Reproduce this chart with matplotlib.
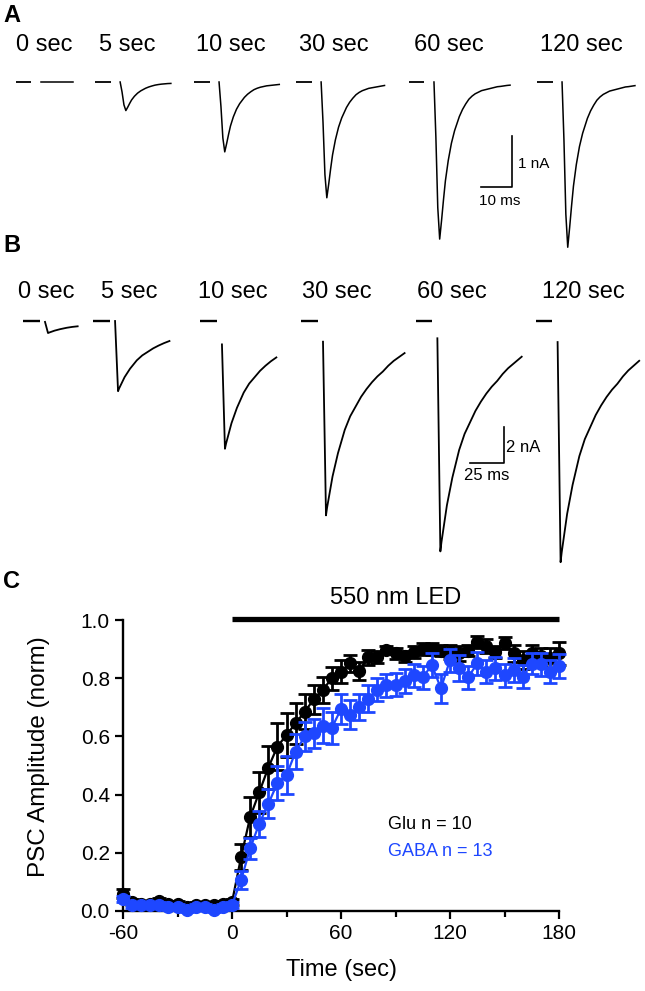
import matplotlib
matplotlib.use('Agg')
import matplotlib.pyplot as plt

plt.rcParams['font.family'] = ['Liberation Sans', 'DejaVu Sans']
plt.rcParams['axes.unicode_minus'] = False

# ---- panel C data: normalised PSC amplitude vs time ----
time_sec = [-60, -55, -50, -45, -40, -35, -30, -25, -20, -15, -10, -5, 0,
            5, 10, 15, 20, 25, 30, 35, 40, 45, 50, 55, 60, 65, 70, 75, 80,
            85, 90, 95, 100, 105, 110, 115, 120, 125, 130, 135, 140, 145,
            150, 155, 160, 165, 170, 175, 180]
glu_mean = [0.06, 0.03, 0.025, 0.025, 0.035, 0.025, 0.025, 0.015, 0.02, 0.02, 0.02, 0.025, 0.03,
            0.185, 0.323, 0.408, 0.493, 0.565, 0.605, 0.645, 0.685, 0.727, 0.76, 0.80, 0.822,
            0.851, 0.825, 0.872, 0.872, 0.897, 0.885, 0.875, 0.89, 0.90, 0.90, 0.895, 0.89,
            0.885, 0.895, 0.925, 0.91, 0.89, 0.92, 0.885, 0.862, 0.885, 0.875, 0.87, 0.885]
glu_sem = [0.015, 0.01, 0.01, 0.01, 0.01, 0.01, 0.01, 0.01, 0.01, 0.01, 0.01, 0.01, 0.01,
           0.045, 0.07, 0.07, 0.075, 0.08, 0.075, 0.07, 0.06, 0.05, 0.045, 0.04, 0.04,
           0.03, 0.03, 0.025, 0.02, 0.015, 0.02, 0.02, 0.02, 0.02, 0.02, 0.02, 0.025,
           0.025, 0.02, 0.02, 0.025, 0.02, 0.02, 0.03, 0.03, 0.03, 0.03, 0.035, 0.04]
gaba_mean = [0.04, 0.02, 0.02, 0.02, 0.02, 0.015, 0.015, 0.005, 0.015, 0.015, 0.005, 0.015, 0.02,
             0.107, 0.215, 0.30, 0.368, 0.44, 0.467, 0.547, 0.60, 0.61, 0.636, 0.63, 0.694,
             0.674, 0.70, 0.73, 0.76, 0.775, 0.778, 0.79, 0.81, 0.803, 0.845, 0.765, 0.862,
             0.834, 0.803, 0.851, 0.822, 0.834, 0.81, 0.828, 0.805, 0.85, 0.848, 0.822, 0.842]
gaba_sem = [0.01, 0.01, 0.01, 0.01, 0.01, 0.01, 0.01, 0.01, 0.01, 0.01, 0.01, 0.01, 0.01,
            0.03, 0.035, 0.045, 0.05, 0.06, 0.065, 0.06, 0.05, 0.05, 0.06, 0.055, 0.05,
            0.05, 0.045, 0.045, 0.04, 0.04, 0.04, 0.04, 0.04, 0.04, 0.04, 0.05, 0.04,
            0.045, 0.04, 0.04, 0.04, 0.04, 0.04, 0.04, 0.04, 0.035, 0.04, 0.04, 0.04]

# ---- panels A/B data: example PSC traces ----
trace_labels = ['0 sec', '5 sec', '10 sec', '30 sec', '60 sec', '120 sec']

# panel A (Glu): normalised waveform, peak amplitude (nA), sweep length (ms)
shape_a_ms = [0, 0.6, 1.2, 1.8, 2.4, 3.0, 3.6, 4.5, 5.5, 6.5, 8, 9, 10, 11, 12, 13,
              14, 15, 16, 17, 18, 19, 20, 21, 22, 23, 24]
shape_a = [0, 0.35, 0.8, 1.0, 0.88, 0.75, 0.63, 0.5, 0.39, 0.31, 0.22, 0.175, 0.14,
           0.11, 0.09, 0.075, 0.065, 0.055, 0.05, 0.045, 0.04, 0.035, 0.03, 0.028,
           0.025, 0.022, 0.02]
peak_a = [0, 0.56, 1.37, 2.27, 3.08, 3.24]
dur_a = [10.7, 16.7, 19.6, 20, 24, 23.7]

# panel B (GABA): first point is replaced by the onset level
shape_b_ms = [0, 2.2, 3, 4, 5.5, 7, 9, 11, 13.5, 16, 20, 24, 28, 32, 36, 40, 44,
              48, 52, 56, 60, 62]
shape_b = [0, 1.0, 0.96, 0.92, 0.86, 0.80, 0.74, 0.68, 0.62, 0.56, 0.49, 0.44,
           0.39, 0.35, 0.315, 0.285, 0.26, 0.23, 0.205, 0.185, 0.165, 0.155]
peak_b = [0.67, 3.9, 7.1, 10.8, 12.8, 13.4]
onset_b = [0.05, 0, 1.3, 1.15, 0.96, 1.17]
dur_b = [24, 42, 40, 61, 62, 60.6]

W, H = 645, 991
BLUE = '#1e47ff'

fig = plt.figure(figsize=(W / 100, H / 100), dpi=100)


def fx(px):
    return px / W


def fy(py):
    return 1 - py / H


def trace_panel(rect, px_per_ms, px_per_na, base_py, top_py, bot_py, starts,
                dash_len, gap, shape_t, shape_v, peaks, durs, onsets, lw, dash_lw):
    ax = fig.add_axes(rect)
    ax.set_xlim(0, W / px_per_ms)
    ax.set_ylim(-(bot_py - base_py) / px_per_na, (base_py - top_py) / px_per_na)
    ax.axis('off')
    for i, s in enumerate(starts):
        ax.plot([s - gap - dash_len, s - gap], [0, 0], color='black', lw=dash_lw,
                solid_capstyle='butt')
        xs, ys = [], []
        for t, v in zip(shape_t, shape_v):
            if t > durs[i]:
                break
            xs.append(s + t)
            if t == 0 and onsets is not None:
                ys.append(-onsets[i])
            else:
                ys.append(-peaks[i] * v)
        ax.plot(xs, ys, color='black', lw=lw)
    return ax


# ---- panel A ----
ax_a = trace_panel([0, fy(260), 1, 200 / H], 3.17, 51, 82, 60, 260,
                   [12.9, 37.9, 69.1, 101.3, 136.9, 177.3], 4.8, 3.0,
                   shape_a_ms, shape_a, peak_a, dur_a, None, 1.1, 1.3)
ax_a.plot([151.7, 161.5, 161.5], [-2.06, -2.06, -1.06], color='black', lw=1.2)
ax_a.text(163.3, -1.6, '1 nA', fontsize=11, ha='left', va='center')
ax_a.text(151.0, -2.33, '10 ms', fontsize=11, ha='left', va='center')

# ---- panel B ----
ax_b = trace_panel([0, fy(580), 1, 270 / H], 1.36, 18, 321, 310, 580,
                   [33.1, 84.6, 163.2, 237.5, 321.6, 410.0], 12, 4.0,
                   shape_b_ms, shape_b, peak_b, dur_b, onset_b, 1.3, 1.7)
ax_b.plot([345.6, 370.6, 370.6], [-7.9, -7.9, -5.9], color='black', lw=1.2)
ax_b.text(372.0, -7.0, '2 nA', fontsize=12, ha='left', va='center')
ax_b.text(341.5, -8.6, '25 ms', fontsize=12, ha='left', va='center')

for lab, xc in zip(trace_labels, [44, 127, 231, 334, 449, 581]):
    fig.text(fx(xc), fy(45), lab, fontsize=17, ha='center', va='center')
for lab, xc in zip(trace_labels, [46, 129, 233, 337, 452, 583]):
    fig.text(fx(xc), fy(292), lab, fontsize=17, ha='center', va='center')

fig.text(fx(3), fy(16), 'A', fontsize=17, fontweight='bold', ha='left', va='center')
fig.text(fx(3), fy(245), 'B', fontsize=17, fontweight='bold', ha='left', va='center')
fig.text(fx(3), fy(581), 'C', fontsize=17, fontweight='bold', ha='left', va='center')

# ---- panel C ----
ax = fig.add_axes([fx(123), fy(911), 436 / W, 291 / H])
for mean, sem, col, z in [(glu_mean, glu_sem, 'black', 3), (gaba_mean, gaba_sem, BLUE, 4)]:
    cont = ax.errorbar(time_sec, mean, yerr=sem, fmt='-o', color=col, ms=8.5, lw=1.6,
                       elinewidth=2.0, capsize=5, capthick=2.0, zorder=z)
    cont.lines[0].set_clip_on(False)
    for art in list(cont.lines[1]) + list(cont.lines[2]):
        art.set_clip_on(False)

ax.set_xlim(-60, 180)
ax.set_ylim(0, 1.0)
ax.set_xticks([-60, 0, 60, 120, 180])
ax.set_xticks([-30, 30, 90, 150], minor=True)
ax.set_yticks([0, 0.2, 0.4, 0.6, 0.8, 1.0])
ax.set_yticklabels(['0.0', '0.2', '0.4', '0.6', '0.8', '1.0'])
for side in ['top', 'right']:
    ax.spines[side].set_visible(False)
for side in ['left', 'bottom']:
    ax.spines[side].set_linewidth(1.7)
ax.tick_params(axis='both', which='major', direction='out', length=6, width=1.6,
               labelsize=15, pad=3.5)
ax.tick_params(axis='x', which='minor', direction='out', length=4.5, width=1.6)
ax.set_ylabel('PSC Amplitude (norm)', fontsize=17.5, va='center')
ax.yaxis.set_label_coords(-0.193, 0.53)
ax.set_xlabel('Time (sec)', fontsize=17, va='center')
ax.xaxis.set_label_coords(0.5, -0.203)

# LED bar
ax.plot([0, 180], [1.005, 1.005], color='black', lw=3.8, solid_capstyle='butt', clip_on=False)
ax.text(90, 1.076, '550 nm LED', fontsize=17, ha='center', va='center')

ax.text(86, 0.297, 'Glu n = 10', fontsize=13, color='black', ha='left', va='center')
ax.text(86, 0.205, 'GABA n = 13', fontsize=13, color=BLUE, ha='left', va='center')

fig.savefig('out.png', dpi=100)
